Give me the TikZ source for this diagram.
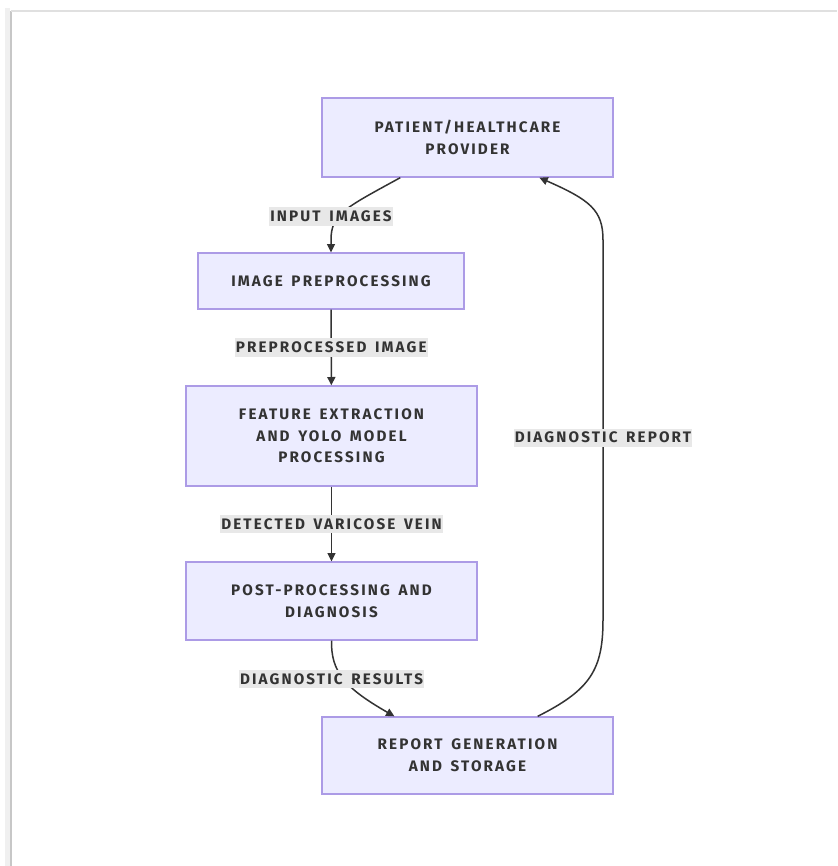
\documentclass[tikz,border=0pt]{standalone}
\usepackage{fontspec}
\newfontfamily\vvfont[LetterSpace=14,WordSpace=1.5]{Fira Sans}
\usetikzlibrary{arrows.meta,calc}
\definecolor{VvFill}{RGB}{236,236,255}
\definecolor{VvEdge}{RGB}{172,155,230}
\definecolor{VvText}{RGB}{51,51,51}
\definecolor{VvLabel}{RGB}{232,232,232}
\definecolor{VvLine}{RGB}{51,51,51}
\tikzset{
  vv/box/.style={
    draw=VvEdge,
    line width=0.04cm,
    fill=VvFill,
    align=center,
    text=VvText,
    minimum width=8.73cm,
    font=\vvfont\bfseries\fontsize{13}{18.5}\selectfont
  },
  vv/label/.style={
    fill=VvLabel,
    text=VvText,
    inner xsep=1pt,
    inner ysep=3pt,
    font=\vvfont\bfseries\fontsize{13}{18.5}\selectfont
  },
  vv/arrow/.style={-{Triangle[length=0.25cm,width=0.24cm]}, line width=0.045cm, draw=VvLine},
  vv/frame/.style={line width=0.06cm, draw=black!22}
}
\begin{document}
\begin{tikzpicture}[x=0.03cm,y=-0.03cm]
  \useasboundingbox (0,0) rectangle (837,866);
  % screenshot edge
  \draw[line width=0.15cm, draw=black!6] (7,866) -- (7,8);
  \draw[vv/frame] (11,866) -- (11,11);
  \draw[line width=0.05cm, draw=black!12] (11,11) -- (837,11);

  \node[vv/box,minimum height=2.37cm] (p) at (467.5,137.5) {PATIENT/HEALTHCARE\\PROVIDER};
  \node[vv/box,minimum width=7.98cm,minimum height=1.68cm] (i) at (331,281) {IMAGE PREPROCESSING};
  \node[vv/box,minimum height=3.0cm] (f) at (331.5,436) {FEATURE EXTRACTION\\AND YOLO MODEL\\PROCESSING};
  \node[vv/box,minimum height=2.34cm] (d) at (331.5,601) {POST-PROCESSING AND\\DIAGNOSIS};
  \node[vv/box,minimum height=2.31cm] (r) at (467.5,755.5) {REPORT GENERATION\\AND STORAGE};

  \draw[vv/arrow] ($(p.south west)!0.27!(p.south east)$) .. controls (345,208) and (331,214) .. (331,240) -- (i.north);
  \draw[vv/arrow] (i) -- node[vv/label] {PREPROCESSED IMAGE} (f);
  \draw[vv/arrow] (f) -- node[vv/label] {DETECTED VARICOSE VEIN} (d);
  \draw[vv/arrow] (d.south) .. controls (331,672) and (345,688) .. ($(r.north west)!0.25!(r.north east)$);
  \draw[vv/arrow] ($(r.north west)!0.74!(r.north east)$) .. controls (590,690) and (603,670) .. (603,620)
    -- node[vv/label,pos=0.48] (rep) {DIAGNOSTIC REPORT} (603,240) .. controls (603,210) and (590,200) .. ($(p.south west)!0.746!(p.south east)$);

  \node[vv/label] (inp) at (331,216.5) {INPUT IMAGES};
  \node[vv/label] (res) at (331.5,679) {DIAGNOSTIC RESULTS};
\end{tikzpicture}
\end{document}
